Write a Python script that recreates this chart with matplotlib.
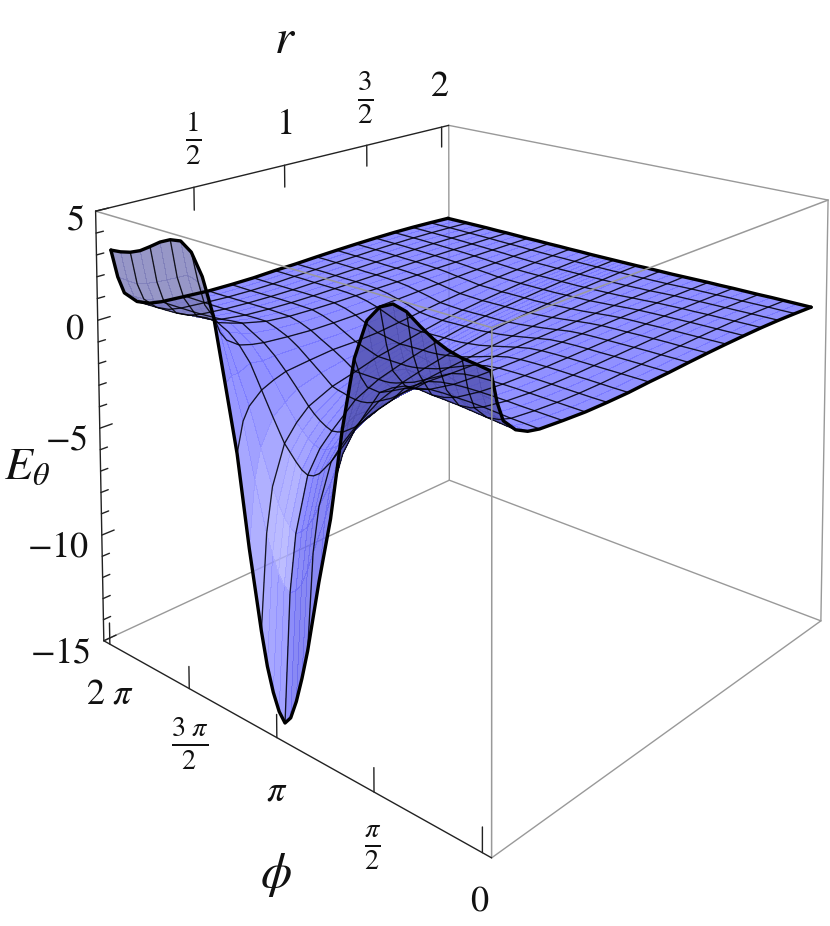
import numpy as np
import matplotlib
matplotlib.use("Agg")
import matplotlib.pyplot as plt
from mpl_toolkits.mplot3d.art3d import Line3DCollection

plt.rcParams['mathtext.fontset'] = 'stix'
plt.rcParams['font.family'] = ['Liberation Serif', 'DejaVu Serif']

# mesh index along r (mesh lines sit on the whole numbers), r = 0.05 ... 2
r_mesh_steps = [0, 0.25, 0.5, 1, 1.5, 2, 3, 4, 5, 6, 7, 8, 9, 10, 11, 12, 13, 14, 15, 16]
# phi in units of pi/8
phi_eighths = [0, 0.5, 1, 1.5, 2, 2.5, 3, 3.5, 4, 4.5, 5, 5.5, 6, 6.5, 7, 7.25, 7.5, 7.75, 8,
               8.25, 8.5, 8.75, 9, 9.5, 10, 10.5, 11, 11.5, 12, 12.5, 13, 13.5, 14, 14.5, 15, 15.5, 16]

# E_theta, one row per phi, one column per r
e_theta = [
    [3.17, 1.9, 1.1, .55, .28, .16, .07, 0, -.02, -.02, .02, .04, .08, .11, .13, .14, .14, .12, .08, .03],
    [3.25, 2.0, 1.2, .6, .32, .18, .08, .01, -.02, -.02, .02, .04, .08, .1, .12, .13, .13, .11, .07, .03],
    [3.31, 2.0, 1.22, .65, .36, .2, .09, .02, -.01, -.01, .02, .04, .07, .09, .11, .12, .12, .1, .07, .03],
    [3.45, 2.2, 1.35, .7, .4, .24, .1, .03, 0, 0, .02, .04, .07, .09, .1, .11, .11, .09, .06, .03],
    [3.69, 2.4, 1.55, .75, .45, .28, .12, .04, .01, 0, .02, .04, .06, .08, .09, .1, .1, .08, .05, .02],
    [4.04, 2.65, 1.7, .78, .48, .3, .13, .05, .02, .01, .02, .03, .05, .07, .08, .08, .08, .07, .05, .02],
    [4.44, 2.7, 1.8, .8, .5, .3, .13, .05, .02, .01, .02, .03, .04, .05, .06, .07, .07, .06, .04, .02],
    [4.58, 2.95, 1.85, .85, .5, .3, .12, .04, .01, 0, .01, .02, .03, .04, .05, .05, .05, .04, .03, .01],
    [4.31, 2.75, 1.6, .8, .47, .27, .08, .02, -.01, -.02, -.01, 0, .01, .02, .03, .03, .03, .03, .02, .01],
    [3.62, 2.1, 1.1, .55, .3, .14, 0, -.05, -.08, -.08, -.07, -.05, -.04, -.03, -.02, -.01, -.01, 0, 0, 0],
    [1.95, 1.1, .6, .18, .05, -.05, -.15, -.2, -.22, -.22, -.19, -.16, -.13, -.1, -.08, -.06, -.04, -.03, -.02, -.01],
    [-1.1, -.9, -.75, -.75, -.75, -.72, -.6, -.5, -.45, -.4, -.33, -.27, -.22, -.17, -.14, -.1, -.08, -.05, -.03, -.02],
    [-4.96, -3.3, -2.5, -1.7, -1.4, -1.25, -.98, -.8, -.68, -.58, -.47, -.38, -.3, -.24, -.18, -.14, -.1, -.07, -.04, -.02],
    [-7.81, -5.3, -3.9, -2.6, -2.15, -1.85, -1.4, -1.1, -.9, -.75, -.6, -.47, -.37, -.29, -.22, -.16, -.12, -.08, -.05, -.02],
    [-10.96, -6.94, -5.1, -3.45, -2.85, -2.4, -1.7, -1.3, -1.05, -.85, -.68, -.53, -.42, -.33, -.25, -.18, -.13, -.09, -.05, -.03],
    [-12.25, -7.8, -5.7, -3.8, -3.1, -2.6, -1.85, -1.4, -1.12, -.9, -.72, -.56, -.44, -.34, -.26, -.19, -.14, -.09, -.06, -.03],
    [-13.37, -8.5, -6.2, -4.15, -3.3, -2.8, -1.95, -1.47, -1.17, -.93, -.74, -.58, -.45, -.35, -.27, -.2, -.14, -.1, -.06, -.03],
    [-14.21, -8.9, -6.5, -4.35, -3.45, -2.9, -2.0, -1.5, -1.2, -.95, -.75, -.58, -.45, -.35, -.27, -.2, -.14, -.1, -.06, -.03],
    [-14.57, -9.1, -6.7, -4.42, -3.5, -2.95, -2.0, -1.5, -1.2, -.95, -.75, -.58, -.45, -.35, -.27, -.2, -.14, -.1, -.06, -.03],
    [-14.21, -8.9, -6.5, -4.3, -3.42, -2.85, -1.97, -1.5, -1.2, -.96, -.76, -.59, -.46, -.35, -.27, -.2, -.14, -.1, -.06, -.03],
    [-13.51, -8.5, -6.2, -4.05, -3.25, -2.7, -1.9, -1.5, -1.2, -.97, -.77, -.6, -.47, -.36, -.27, -.2, -.14, -.1, -.06, -.03],
    [-12.51, -7.8, -5.7, -3.75, -3.0, -2.5, -1.85, -1.5, -1.2, -.98, -.78, -.61, -.47, -.36, -.27, -.2, -.14, -.1, -.06, -.03],
    [-11.1, -7.0, -5.1, -3.45, -2.75, -2.25, -1.77, -1.5, -1.2, -1.0, -.8, -.62, -.48, -.37, -.28, -.2, -.14, -.1, -.06, -.03],
    [-7.75, -4.9, -3.6, -2.5, -2.05, -1.65, -1.35, -1.15, -1.02, -.9, -.75, -.6, -.46, -.35, -.26, -.19, -.14, -.09, -.05, -.02],
    [-3.85, -2.55, -2.0, -1.5, -1.25, -1.07, -.95, -.85, -.85, -.8, -.68, -.55, -.43, -.33, -.25, -.18, -.13, -.09, -.05, -.02],
    [-1.03, -.75, -.75, -.5, -.58, -.55, -.55, -.58, -.58, -.55, -.47, -.38, -.3, -.24, -.18, -.13, -.1, -.07, -.04, -.01],
    [1.74, .95, .53, .13, -.03, -.13, -.23, -.3, -.31, -.3, -.27, -.23, -.19, -.15, -.12, -.09, -.07, -.05, -.03, -.01],
    [3.31, 2.05, 1.2, .55, .3, .14, -.02, -.1, -.13, -.13, -.12, -.1, -.08, -.06, -.05, -.04, -.03, -.02, -.01, 0],
    [4.23, 2.85, 1.75, .8, .6, .42, .15, .03, -.01, -.03, -.03, -.02, -.02, -.01, 0, 0, 0, 0, 0, 0],
    [4.58, 3.0, 1.9, .85, .55, .36, .14, .04, 0, -.01, 0, .01, .01, .02, .03, .03, .03, .02, .01, .01],
    [4.5, 2.75, 1.75, .77, .45, .28, .12, .05, .01, 0, .01, .02, .03, .04, .05, .05, .05, .04, .03, .02],
    [4.26, 2.5, 1.55, .68, .38, .24, .1, .04, .01, 0, .01, .02, .03, .05, .06, .07, .07, .06, .04, .02],
    [3.92, 2.25, 1.33, .6, .32, .2, .09, .03, 0, -.01, .01, .03, .05, .07, .08, .09, .09, .08, .05, .03],
    [3.6, 2.05, 1.2, .57, .3, .18, .08, .02, -.01, -.01, .02, .04, .06, .08, .1, .11, .11, .09, .06, .03],
    [3.39, 1.87, 1.1, .55, .28, .17, .08, .01, -.02, -.02, .02, .04, .07, .09, .11, .12, .12, .1, .07, .03],
    [3.27, 1.88, 1.08, .53, .27, .16, .08, 0, -.02, -.02, .02, .04, .08, .1, .12, .13, .13, .11, .07, .03],
    [3.21, 1.9, 1.08, .51, .26, .16, .08, 0, -.02, -.02, .02, .04, .08, .11, .13, .14, .14, .12, .08, .03],
]

r_ticks = [0.5, 1, 1.5, 2]
phi_ticks = [0, np.pi / 2, np.pi, 3 * np.pi / 2, 2 * np.pi]
z_minor_ticks = [4, 3, 2, 1, -1, -2, -3, -4, -6, -7, -8, -9, -11, -12, -13, -14]
z_major_ticks = [5, 0, -5, -10, -15]

# plot box
r_lo, r_hi = 0.01, 2.05
phi_lo, phi_hi = -0.1257, 2 * np.pi + 0.1257
z_lo, z_hi = -15, 5

W, H = 830, 926


def camera_matrix():
    # box corners and where they land in the picture; solved once for the view
    corners = [
        (r_lo, phi_hi, z_hi, 95.5, 211), (r_lo, phi_hi, z_lo, 104, 641),
        (r_hi, phi_hi, z_hi, 449, 125.5), (r_hi, phi_hi, z_lo, 449, 480),
        (r_hi, phi_lo, z_hi, 828, 200), (r_hi, phi_lo, z_lo, 821, 621),
        (r_lo, phi_lo, z_hi, 491.7, 327.7), (r_lo, phi_lo, z_lo, 491.7, 857.7),
    ]
    rows = []
    for x, y, z, u, v in corners:
        rows.append([x, y, z, 1, 0, 0, 0, 0, -u * x, -u * y, -u * z, -u])
        rows.append([0, 0, 0, 0, x, y, z, 1, -v * x, -v * y, -v * z, -v])
    p = np.linalg.svd(np.array(rows))[2][-1].reshape(3, 4)
    if p[2] @ np.array([1, 3, 0, 1]) < 0:
        p = -p
    return p


P = camera_matrix()
M = np.array([P[0], P[1], [0, 0, 0, -1], P[2]])

# square axes so that Axes3D keeps the box, 2d limits are picture pixels
side = H
fig = plt.figure(figsize=(W / 100, H / 100), dpi=100)
ax = fig.add_axes([(W - side) / 2 / W, 0, side / W, 1], projection='3d', computed_zorder=False)
ax.get_proj = lambda: M
ax.set_axis_off()

r_values = 0.05 + np.array(r_mesh_steps) * (2 - 0.05) / 16
phi_values = np.array(phi_eighths) * np.pi / 8
PHI, RR = np.meshgrid(phi_values, r_values, indexing='ij')
Z = np.array(e_theta)


def face_colors():
    # front/back from the signed area in the picture, tone from a light on the left
    pts = np.stack([RR, PHI, Z, np.ones_like(Z)], axis=-1) @ P.T
    u, v = pts[..., 0] / pts[..., 2], pts[..., 1] / pts[..., 2]
    area = (u[1:, 1:] - u[:-1, :-1]) * (v[:-1, 1:] - v[1:, :-1]) - (u[:-1, 1:] - u[1:, :-1]) * (v[1:, 1:] - v[:-1, :-1])
    zc = Z / 20
    dphi = (zc[1:, :-1] + zc[1:, 1:] - zc[:-1, :-1] - zc[:-1, 1:]) / 2 / (np.diff(phi_values)[:, None] / 6.53)
    tone = (0.8 * dphi + 0.6) / np.sqrt(1 + dphi ** 2)
    colors = np.zeros(Z.shape + (4,))
    flat_sign = np.sign(np.median(area))
    for i in range(Z.shape[0] - 1):
        for j in range(Z.shape[1] - 1):
            z_mean = Z[i:i + 2, j:j + 2].mean()
            if area[i, j] * flat_sign > 0:
                t = tone[i, j]
                if t >= 0.7:
                    k = np.clip((t - 0.7) / 0.3, 0, 1) * np.clip((-z_mean - 1) / 5, 0, 1) * np.clip((z_mean + 14) / 6, 0, 1)
                    c = (118 + 55 * k, 118 + 55 * k, 255)
                elif t >= 0.3:
                    c = (118, 118, 255)
                else:
                    k = min((0.3 - t) / 0.9, 1)
                    c = (118 - 12 * k, 118 - 12 * k, 255 - 15 * k)
            elif phi_eighths[i] >= 11:
                c = (125, 125, 185)
            else:
                c = (80, 80, 175)
            colors[i, j] = (c[0] / 255, c[1] / 255, c[2] / 255, 0.8)
    return colors


ax.plot_surface(RR, PHI, Z, rstride=1, cstride=1, facecolors=face_colors(), shade=False,
                linewidth=0, antialiased=False, zorder=2)


def add_lines(segments, color, lw, zorder, alpha=1.0):
    lines = Line3DCollection(np.array(segments), colors=color, linewidths=lw, zorder=zorder, alpha=alpha,
                             capstyle='round', joinstyle='round')
    ax.add_collection3d(lines)


row_stack = np.stack([RR, PHI, Z], axis=-1)
whole_phi = [i for i, n in enumerate(phi_eighths) if n == int(n)]
whole_r = [j for j, s in enumerate(r_mesh_steps) if s == int(s)]
add_lines([row_stack[i] for i in whole_phi[1:-1]], 'black', 0.95, 3, alpha=0.85)
add_lines([row_stack[:, j] for j in whole_r[1:-1]], 'black', 0.95, 3, alpha=0.85)
add_lines([row_stack[i] for i in (0, -1)], 'black', 2.4, 4)
add_lines([row_stack[:, j] for j in (0, -1)], 'black', 2.4, 4)

# box edges behind and in front of the surface
add_lines([[(r_hi, phi_hi, z_lo), (r_hi, phi_hi, z_hi)],
           [(r_lo, phi_hi, z_lo), (r_hi, phi_hi, z_lo)],
           [(r_hi, phi_hi, z_lo), (r_hi, phi_lo, z_lo)],
           [(r_hi, phi_hi, z_hi), (r_hi, phi_lo, z_hi)],
           [(r_hi, phi_lo, z_lo), (r_hi, phi_lo, z_hi)],
           [(r_lo, phi_lo, z_lo), (r_hi, phi_lo, z_lo)]], '#999999', 1.0, 1)
add_lines([[(r_lo, phi_lo, z_lo), (r_lo, phi_lo, z_hi)],
           [(r_lo, phi_lo, z_hi), (r_hi, phi_lo, z_hi)],
           [(r_lo, phi_hi, z_hi), (r_lo, phi_lo, z_hi)]], '#999999', 1.1, 5)
axis_segments = [[(r_lo, phi_hi, z_hi), (r_hi, phi_hi, z_hi)],
                 [(r_lo, phi_hi, z_lo), (r_lo, phi_lo, z_lo)],
                 [(r_lo, phi_hi, z_lo), (r_lo, phi_hi, z_hi)]]

# ticks
axis_segments += [[(v, phi_hi, z_hi), (v, phi_hi, z_hi - 1.1)] for v in r_ticks]
axis_segments += [[(r_lo, v, z_lo), (r_lo, v, z_lo + 1.0)] for v in phi_ticks]
axis_segments += [[(r_lo, phi_hi, v), (r_lo + 0.06, phi_hi, v)] for v in z_major_ticks]
axis_segments += [[(r_lo, phi_hi, v), (r_lo + 0.035, phi_hi, v)] for v in z_minor_ticks]
add_lines(axis_segments, '#222222', 1.0, 6)

ax.viewLim.intervalx = ((W - side) / 2, (W + side) / 2)
ax.viewLim.intervaly = (H, 0)


def label(x, y, s, size=26):
    fig.text(x / W, 1 - y / H, s, fontsize=size, ha='center', va='center', color='#111111')


label(285, 41, r'$r$', 35)
label(193, 139, r'$\frac{1}{2}$', 30)
label(284, 125, r'$1$')
label(365, 98, r'$\frac{3}{2}$', 30)
label(440, 87, r'$2$')
label(75, 221, r'$5$')
label(75, 330, r'$0$')
label(66, 441, r'$-5$')
label(58, 548, r'$-10$')
label(60, 654, r'$-15$')
label(27, 468, r'$E_{\theta}$', 33)
label(110, 695, r'$2\ \pi$')
label(190, 744, r'$\frac{3\ \pi}{2}$', 29)
label(277, 792, r'$\pi$')
label(373, 848, r'$\frac{\pi}{2}$', 29)
label(480, 902, r'$0$')
label(276, 875, r'$\phi$', 36)

fig.savefig('out.png', dpi=100)
